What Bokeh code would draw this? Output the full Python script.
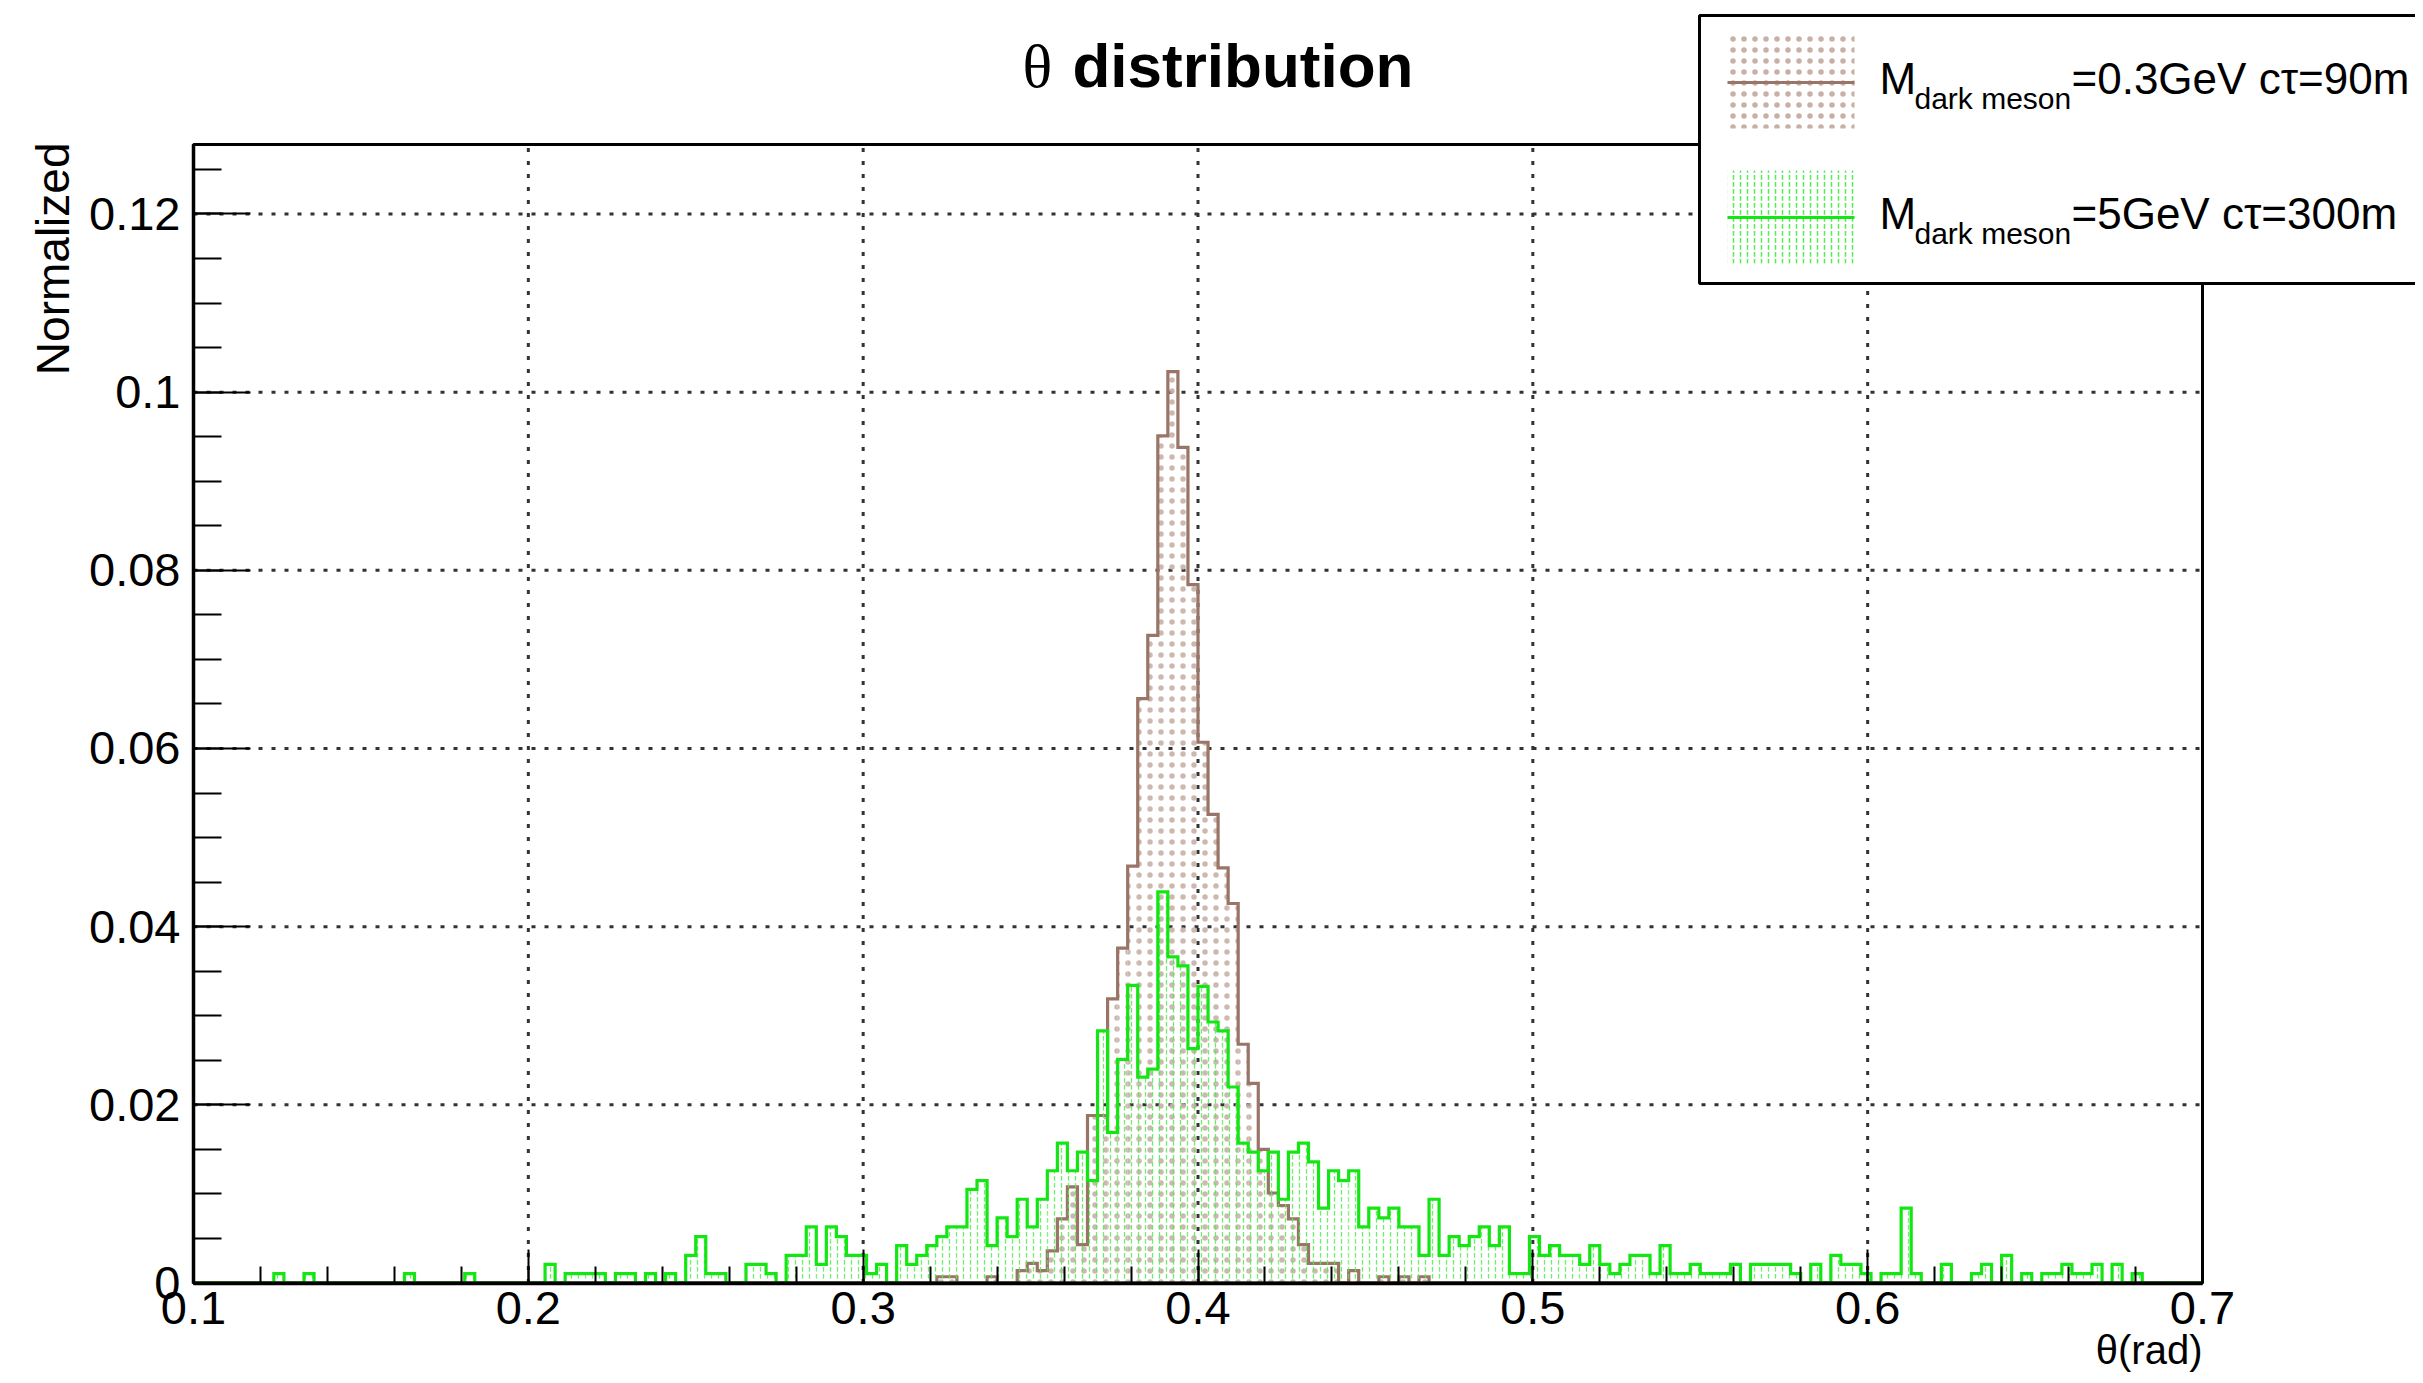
import numpy as np
from bokeh.plotting import figure
from bokeh.models import (FixedTicker, CustomJSTickFormatter, Label, BoxAnnotation,
                          Range1d, LinearAxis)
from bokeh.embed import file_html
from bokeh.resources import INLINE

# ---------------- data ----------------
x_start = 0.1
bin_width = 0.003
n_bins = 200

# M_dark meson = 0.3 GeV, ctau = 90 m  (brown)
brown_vals = [
    0, 0, 0, 0, 0, 0, 0, 0, 0, 0,
    0, 0, 0, 0, 0, 0, 0, 0, 0, 0,
    0, 0, 0, 0, 0, 0, 0, 0, 0, 0,
    0, 0, 0, 0, 0, 0, 0, 0, 0, 0,
    0, 0, 0, 0, 0, 0, 0, 0, 0, 0,
    0, 0, 0, 0, 0, 0, 0, 0, 0, 0,
    0, 0, 0, 0, 0, 0, 0, 0, 0, 0,
    0, 0, 0, 0, 0.0007, 0.0007, 0, 0, 0, 0.0007,
    0, 0, 0.0014, 0.0022, 0.0014, 0.0036, 0.0072, 0.0108, 0.0043, 0.0188,
    0.0188, 0.0319, 0.0376, 0.0468, 0.0656, 0.0727, 0.0951, 0.1023, 0.0938, 0.0784,
    0.0607, 0.0526, 0.0466, 0.0426, 0.0268, 0.0224, 0.0150, 0.0101, 0.0087, 0.0072,
    0.0043, 0.0022, 0.0022, 0.0022, 0, 0.0014, 0, 0, 0.0007, 0,
    0.0007, 0, 0.0007, 0, 0, 0, 0, 0, 0, 0,
    0, 0, 0, 0, 0, 0, 0, 0, 0, 0,
    0, 0, 0, 0, 0, 0, 0, 0, 0, 0,
    0, 0, 0, 0, 0, 0, 0, 0, 0, 0,
    0, 0, 0, 0, 0, 0, 0, 0, 0, 0,
    0, 0, 0, 0, 0, 0, 0, 0, 0, 0,
    0, 0, 0, 0, 0, 0, 0, 0, 0, 0,
    0, 0, 0, 0, 0, 0, 0, 0, 0, 0,
]

# M_dark meson = 5 GeV, ctau = 300 m  (green)
green_vals = [
    0, 0, 0, 0, 0, 0, 0, 0, 0.00105, 0,
    0, 0.00105, 0, 0, 0, 0, 0, 0, 0, 0,
    0, 0.00105, 0, 0, 0, 0, 0, 0.00105, 0, 0,
    0, 0, 0, 0, 0, 0.0021, 0, 0.00105, 0.00105, 0.00105,
    0.00105, 0, 0.00105, 0.00105, 0, 0.00105, 0, 0.00105, 0, 0.0031,
    0.0052, 0.00105, 0.00105, 0, 0, 0.0021, 0.0021, 0.00105, 0, 0.0031,
    0.0031, 0.0063, 0.0021, 0.0063, 0.0052, 0.0031, 0.0031, 0.00105, 0.0021, 0,
    0.0042, 0.0021, 0.0031, 0.0042, 0.0052, 0.0063, 0.0063, 0.0105, 0.0115, 0.0042,
    0.0073, 0.0052, 0.0094, 0.0063, 0.0094, 0.0126, 0.0157, 0.0126, 0.0147, 0.0115,
    0.0283, 0.0169, 0.0251, 0.0334, 0.0231, 0.0240, 0.0439, 0.0366, 0.0356, 0.0263,
    0.0333, 0.0293, 0.0283, 0.0220, 0.0157, 0.0147, 0.0126, 0.0147, 0.0094, 0.0147,
    0.0157, 0.0136, 0.0084, 0.0126, 0.0115, 0.0126, 0.0063, 0.0084, 0.0073, 0.0084,
    0.0063, 0.0063, 0.0031, 0.0094, 0.0031, 0.0052, 0.0042, 0.0052, 0.0063, 0.0042,
    0.0063, 0.00105, 0.00105, 0.0052, 0.0031, 0.0042, 0.0031, 0.0031, 0.0021, 0.0042,
    0.0021, 0.00105, 0.0021, 0.0031, 0.0031, 0.00105, 0.0042, 0.00105, 0.00105, 0.0021,
    0.00105, 0.00105, 0.00105, 0.0021, 0, 0.0021, 0.0021, 0.0021, 0.0021, 0.00105,
    0, 0.0021, 0, 0.0031, 0.0021, 0.0021, 0.00105, 0, 0.00105, 0.00105,
    0.0084, 0.00105, 0, 0, 0.0021, 0, 0, 0.00105, 0.0021, 0,
    0.0031, 0, 0.00105, 0, 0.00105, 0.00105, 0.0021, 0.00105, 0.00105, 0.0021,
    0, 0.0021, 0, 0.00105, 0, 0, 0, 0, 0, 0,
]

x_ticks = [0.1, 0.2, 0.3, 0.4, 0.5, 0.6, 0.7]
y_ticks = [0.0, 0.02, 0.04, 0.06, 0.08, 0.1, 0.12]

title_word = "distribution"
x_title = "θ(rad)"
y_title = "Normalized"
legend_rest = ["=0.3GeV cτ=90m", "=5GeV cτ=300m"]

BROWN = "#9a7466"
GREEN = "#14e614"
FONT = "Liberation Sans"

# ---------------- layout (canvas pixels) ----------------
W, H = 2415, 1375
FL, FT, FW, FH = 193, 144, 2009, 1138.5     # visible plot box inside the canvas
X0, X1 = 0.1, 0.7
Y0, Y1 = 0.0, 0.1278


def dx(cx):
    return X0 + (cx - FL) / FW * (X1 - X0)


def dy(cy):
    return Y0 + (FT + FH - cy) / FH * (Y1 - Y0)


p = figure(frame_width=W, frame_height=H,
           x_range=Range1d(dx(0), dx(W)), y_range=Range1d(dy(H), dy(0)),
           output_backend="svg", toolbar_location=None,
           x_axis_location=None, y_axis_location=None, min_border=0)
p.title.text = ""
p.background_fill_color = "white"
p.border_fill_color = "white"
p.outline_line_color = None
p.grid.visible = False

# grid lines (dotted) at major ticks, inside the plot box
gx_t = x_ticks[1:-1]
gy_t = y_ticks[1:]
p.segment(x0=gx_t, y0=[Y0] * len(gx_t), x1=gx_t, y1=[Y1] * len(gx_t),
          line_color="#333333", line_width=3, line_dash="4 9")
p.segment(x0=[X0] * len(gy_t), y0=gy_t, x1=[X1] * len(gy_t), y1=gy_t,
          line_color="#333333", line_width=3, line_dash="4 9")

edges = x_start + bin_width * np.arange(n_bins + 1)


def outline(vals):
    xs = [edges[0]]
    ys = [0.0]
    for i, v in enumerate(vals):
        xs += [edges[i], edges[i + 1]]
        ys += [v, v]
    xs.append(edges[-1])
    ys.append(0.0)
    return xs, ys


BROWN_HATCH = "#c8b0a6"
GREEN_HATCH = "#50ee50"

# brown histogram
p.quad(left=edges[:-1], right=edges[1:], top=brown_vals, bottom=0,
       fill_alpha=0, line_alpha=0, hatch_pattern=".", hatch_color=BROWN_HATCH,
       hatch_scale=11, hatch_weight=1.6, hatch_alpha=0.9)
bx, by = outline(brown_vals)
p.line(bx, by, line_color=BROWN, line_width=3.2, line_join="miter")

# green histogram
p.quad(left=edges[:-1], right=edges[1:], top=green_vals, bottom=0,
       fill_alpha=0, line_alpha=0, hatch_pattern=":", hatch_color=GREEN_HATCH,
       hatch_scale=7, hatch_weight=1.3, hatch_alpha=0.85)
gx, gy = outline(green_vals)
p.line(gx, gy, line_color=GREEN, line_width=3.2, line_join="miter")

# plot box (top / right borders; left / bottom come from the axes)
p.quad(left=X0, right=X1, bottom=Y0, top=Y1, fill_alpha=0,
       line_color="black", line_width=3)

# axes placed at the plot box edges
xaxis = LinearAxis(fixed_location=Y0, bounds=(X0, X1))
yaxis = LinearAxis(fixed_location=X0, bounds=(Y0, Y1))
p.add_layout(xaxis, "below")
p.add_layout(yaxis, "left")
xaxis.ticker = FixedTicker(ticks=x_ticks, minor_ticks=list(np.round(np.arange(0.1, 0.7001, 0.02), 4)))
yaxis.ticker = FixedTicker(ticks=y_ticks, minor_ticks=list(np.round(np.arange(0.0, 0.1276, 0.005), 4)))
xaxis.formatter = CustomJSTickFormatter(code="return (Math.round(tick*10)/10).toString();")
yaxis.formatter = CustomJSTickFormatter(code="return (Math.round(tick*1000)/1000).toString();")
for ax in (xaxis, yaxis):
    ax.axis_line_color = "black"
    ax.axis_line_width = 3.5
    ax.major_tick_line_color = "black"
    ax.minor_tick_line_color = "black"
    ax.major_tick_line_width = 2
    ax.minor_tick_line_width = 2
    ax.major_tick_out = 0
    ax.minor_tick_out = 0
    ax.major_label_text_font = FONT
    ax.major_label_text_font_size = "47px"
    ax.major_label_text_color = "black"
xaxis.major_tick_in = 34
xaxis.minor_tick_in = 17
yaxis.major_tick_in = 57
yaxis.minor_tick_in = 28
xaxis.major_label_standoff = 9
yaxis.major_label_standoff = 13


def text(x, y, s, size, align="left", font=FONT, style="normal", angle=0.0, level="annotation"):
    p.add_layout(Label(x=dx(x), y=dy(y), text=s, text_font=font, text_font_size=size,
                       text_font_style=style, text_color="black", text_align=align,
                       text_baseline="middle", angle=angle, level=level))


# titles
text(1022, 65, "θ", "62px", font="Liberation Serif")
text(1072, 65, title_word, "62px", style="bold")
text(52, 142, y_title, "46px", align="right", angle=np.pi / 2)
text(2202, 1349, x_title, "40px", align="right")

# legend (manual, so the subscript can be drawn)
p.add_layout(BoxAnnotation(left=dx(1699), right=dx(2470), top=dy(15), bottom=dy(283),
                           fill_color="white", fill_alpha=1, line_color="black",
                           line_alpha=1, line_width=3, level="overlay"))
entries = [(BROWN, ".", BROWN_HATCH, 11, 35, legend_rest[0]),
           (GREEN, ":", GREEN_HATCH, 7, 170, legend_rest[1])]
for col, hp, hc, hs, top, rest in entries:
    p.add_layout(BoxAnnotation(left=dx(1727), right=dx(1854), top=dy(top), bottom=dy(top + 93),
                               fill_alpha=0, line_alpha=0, hatch_pattern=hp, hatch_color=hc,
                               hatch_scale=hs, hatch_weight=1.5, hatch_alpha=1, level="overlay"))
    mid = top + 47
    p.add_layout(BoxAnnotation(left=dx(1727), right=dx(1854), top=dy(mid - 1.6), bottom=dy(mid + 1.6),
                               fill_color=col, fill_alpha=1, line_alpha=0, level="overlay"))
    base = top + 58
    text(1879, base - 15.5, "M", "44px", level="overlay")
    text(1914, base + 15 - 10.5, "dark meson", "30px", level="overlay")
    text(2071, base - 15.5, rest, "44px", level="overlay")

open("out.html", "w").write(file_html(p, INLINE))
